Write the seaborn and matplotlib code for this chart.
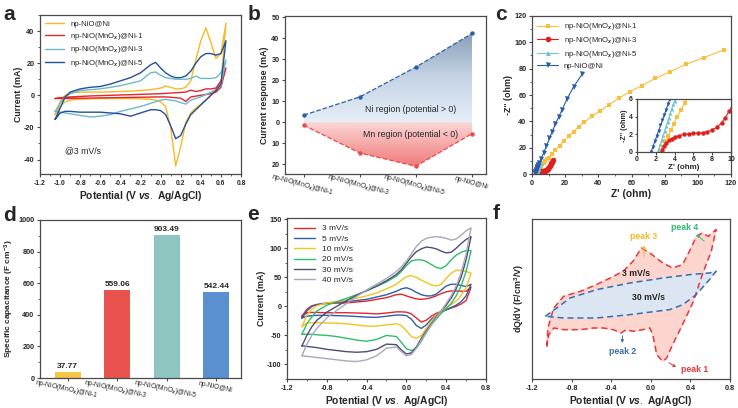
import numpy as np
import pandas as pd
import matplotlib
matplotlib.use("Agg")
import matplotlib.pyplot as plt
import seaborn as sns
from matplotlib.colors import LinearSegmentedColormap
from matplotlib.ticker import AutoMinorLocator, FuncFormatter

# ---------------- data ----------------
V_GRID = [-1.05, -1.0, -0.95, -0.9, -0.8, -0.7, -0.6, -0.5, -0.4, -0.3, -0.2, -0.1, -0.05,
          0.0, 0.05, 0.1, 0.15, 0.2, 0.25, 0.3, 0.35, 0.4, 0.45, 0.5, 0.55, 0.6, 0.65]

# panel a (3 mV/s) anodic (up) and cathodic (lo) branches, mA
a_ni_up = [-12, -4, 0, 1.5, 2, 2, 2, 2.2, 2.4, 2.6, 3, 3.5, 4, 4.5, 5.8, 5, 4, 4, 5, 9, 22, 34, 42, 33, 23, 26, 45]
a_ni_lo = [-12, -7, -4, -3, -2.5, -2.2, -2, -2, -2, -2, -2.2, -2.5, -3, -4, -7, -20, -44, -32, -17, -11, -8, -5.5, -3, 0, 3, 8, 45]
a_m1_up = [-2, -1.5, -1.2, -1, -0.7, -0.4, -0.2, 0, 0.2, 0.4, 0.6, 0.8, 0.9, 1, 1.2, 1.4, 1.6, 1.8, 2, 3.2, 2.4, 3, 4, 4, 4.5, 9, 17]
a_m1_lo = [-2, -2, -2, -1.9, -1.8, -1.7, -1.6, -1.5, -1.4, -1.3, -1.2, -1.1, -1, -1, -1, -1.2, -1.5, -1.8, -3.8, -1, -0.5, 0, 0.5, 1, 2, 5, 17]
a_m3_up = [-10, -5, -1, 1, 3, 3.5, 4, 5, 6, 7.5, 9, 14, 14.5, 12.5, 11, 10.5, 10, 10, 10, 10.5, 12, 10.5, 10.5, 10.5, 11, 14, 22]
a_m3_lo = [-10, -10.5, -11, -11.5, -12.5, -13.5, -13, -12, -10, -8.5, -7, -5, -4, -3, -2.5, -3, -3.5, -4.5, -5.5, -3, -2, -1, 0.5, 2, 3.5, 6, 22]
a_m5_up = [-15, -8, -1, 2, 4, 5, 5.5, 7, 9, 11, 14, 19, 20.5, 17, 14, 12, 11, 11, 12, 15, 20, 24, 26, 26, 25, 26, 34]
a_m5_lo = [-15, -11, -10, -10, -10.5, -10.5, -10.5, -11, -11.5, -13, -11, -9, -9, -9.5, -12, -19, -27, -25, -18, -12, -9, -6, -3, 0, 3, 7, 34]

# panel b
b_labels = ["np-NiO(MnO$_x$)@Ni-1", "np-NiO(MnO$_x$)@Ni-3", "np-NiO(MnO$_x$)@Ni-5", "np-NiO@Ni"]
b_ni = [3.3, 12.0, 26.2, 42.2]
b_mn = [-1.5, -14.7, -21.0, -5.5]

# panel c (Nyquist)
c_m1_x = [2.5, 2.75, 3.0, 3.3, 3.6, 3.9, 4.3, 4.7, 5.1, 5.6, 6.3, 7.0, 8.0, 9.0, 10.1, 12.1, 14.1, 16.7, 19.1,
          22.1, 25.1, 28.1, 31.6, 36.2, 41.2, 46.2, 52.3, 58.9, 66.3, 74.4, 83.4, 92.7, 103.5, 115.6]
c_m1_y = [0, 0.6, 1.2, 1.8, 2.5, 3.2, 4.0, 4.8, 5.6, 6.4, 7.5, 8.5, 10, 11.2, 12.5, 14.9, 18.2, 21.5, 25.1,
          28.9, 32.2, 35.9, 39.2, 44.1, 47.8, 52.4, 57.5, 62.5, 67.1, 72.7, 77.7, 83.3, 88.4, 94.2]
c_m3_x = [2.7, 2.9, 3.1, 3.4, 3.7, 4.0, 4.5, 5.0, 5.5, 6.0, 6.5, 7.0, 7.5, 8.0, 8.5, 9.0, 9.4, 9.8, 10.2,
          10.7, 11.2, 11.7, 12.2, 12.6]
c_m3_y = [0.2, 0.7, 1.0, 1.3, 1.5, 1.7, 1.85, 2.0, 2.05, 2.1, 2.15, 2.2, 2.3, 2.5, 2.8, 3.3, 3.9, 4.6, 5.4,
          6.4, 7.4, 8.4, 9.4, 10.3]
c_m5_x = [2.2, 2.35, 2.5, 2.65, 2.8, 2.95, 3.1, 3.25, 3.4, 3.55, 3.7, 3.85, 4.0, 4.5, 5.2]
c_m5_y = [0, 0.4, 0.9, 1.4, 1.9, 2.4, 2.9, 3.4, 3.9, 4.4, 4.9, 5.4, 5.8, 6.8, 8.2]
c_ni_x = [1.5, 1.7, 1.9, 2.1, 2.3, 2.5, 2.7, 2.9, 3.1, 3.3, 3.5, 3.7, 4.4, 5.4, 7.0, 8.6, 10.5, 12.1, 14.1,
          16.1, 18.1, 21.1, 25.1, 30.2]
c_ni_y = [0, 0.6, 1.2, 1.8, 2.4, 3.0, 3.6, 4.2, 4.8, 5.4, 6.0, 6.6, 8.5, 11.5, 16, 21, 27, 32, 38, 43.5,
          48.6, 57, 66.3, 75.7]

# panel d
d_labels = ["np-NiO(MnO$_x$)@Ni-1", "np-NiO(MnO$_x$)@Ni-3", "np-NiO(MnO$_x$)@Ni-5", "np-NiO@Ni"]
d_values = [37.77, 559.06, 903.49, 542.44]

# panel e (Ni-5 at different scan rates), mA
e_rates = ["3 mV/s", "5 mV/s", "10 mV/s", "20 mV/s", "30 mV/s", "40 mV/s"]
e3_up = [-17, -5, 1, 3, 5, 5.5, 6, 7.5, 9, 12, 15, 20, 21, 18, 15, 13, 12, 13, 15, 18, 22, 25, 26.5, 26.5, 26, 26, 33]
e3_lo = [-17, -11, -10.5, -10.5, -11, -11, -11, -11.5, -12, -13, -11.5, -9.5, -9.5, -10, -13, -20, -27, -24, -17, -12, -9, -6, -3, 0, 4, 10, 33]
e5_up = [-20, -8, 0, 3, 6, 7, 8, 10, 12, 16, 20, 26, 30, 32, 29, 24, 20, 18, 18, 21, 28, 35, 38, 38, 36, 34, 38]
e5_lo = [-20, -17, -16, -15.5, -15.5, -16, -16.5, -17.5, -18.5, -19, -17, -15, -15, -16, -22, -33, -38, -32, -22, -15, -10, -6, -2, 2, 8, 18, 38]
e10_up = [-35, -15, -5, 1, 6, 8, 11, 14, 18, 23, 30, 38, 45, 51, 53, 50, 45, 41, 37, 35, 38, 48, 57, 62, 62, 60, 57]
e10_lo = [-35, -29, -28, -28, -28.5, -29, -30, -32, -34, -34, -32, -30, -33, -42, -52, -55, -50, -38, -26, -15, -8, -2, 3, 9, 18, 32, 57]
e20_up = [-48, -30, -18, -8, 2, 8, 14, 20, 27, 34, 42, 52, 60, 70, 78, 80, 80, 77, 72, 67, 65, 70, 80, 88, 93, 96, 96]
e20_lo = [-48, -48, -48, -49, -50, -52, -55, -58, -60, -57, -50, -52, -62, -73, -76, -72, -60, -45, -32, -22, -12, -4, 5, 18, 35, 60, 96]
e30_up = [-68, -50, -35, -24, -10, 0, 10, 19, 27, 35, 44, 55, 63, 74, 85, 94, 99, 102, 101, 99, 95, 92, 93, 100, 108, 115, 120]
e30_lo = [-68, -69, -70, -71, -74, -76, -78, -79, -78, -74, -65, -66, -75, -82, -80, -70, -55, -42, -30, -18, -8, 2, 14, 30, 50, 80, 120]
e40_up = [-85, -65, -50, -38, -20, -7, 5, 17, 28, 38, 48, 60, 68, 78, 90, 103, 112, 117, 119, 120, 119, 117, 114, 116, 122, 130, 135]
e40_lo = [-85, -86, -87, -88, -90, -92, -94, -95, -92, -85, -72, -70, -78, -85, -83, -72, -58, -45, -32, -20, -8, 5, 18, 35, 58, 90, 135]

# panel f (dQ/dV, arbitrary units), closed loops
f3_v = [-1.05, -1.04, -0.98, -0.88, -0.71, -0.55, -0.41, -0.28, -0.18, -0.095, -0.01, 0.12, 0.22, 0.32, 0.39,
        0.46, 0.52, 0.58, 0.66, 0.61, 0.52, 0.43, 0.32, 0.22, 0.16, 0.12, 0.06, 0.02, -0.01, -0.08, -0.18,
        -0.25, -0.30, -0.38, -0.48, -0.58, -0.71, -0.88, -0.98, -1.03, -1.05]
f3_y = [-9.5, -4, 2, 5.5, 7, 9, 11, 13, 16, 20, 18.5, 15.5, 14, 15, 19, 23.5, 24.5, 23.5, 25.5, 19, 12, 4, -3,
        -9, -13, -14, -12, -6, -4, -4.5, -5, -4.5, -5.5, -4.5, -4, -4, -4.5, -4.5, -4, -6, -9.5]
f30_v = [-1.066, -0.95, -0.815, -0.547, -0.212, 0.123, 0.391, 0.592, 0.659, 0.592, 0.458, 0.324, 0.19, 0.056,
         -0.212, -0.547, -0.882, -1.066]
f30_y = [-0.5, 2, 5, 7.5, 9.5, 11, 12, 12.5, 13, 10.5, 6, 3, 1.5, 1, 0, -1, -1, -0.5]

# ---------------- style ----------------
sns.set_theme(style="ticks")
plt.rcParams['font.family'] = ['Liberation Sans', 'DejaVu Sans']
plt.rcParams['mathtext.fontset'] = 'custom'
plt.rcParams['mathtext.rm'] = 'Liberation Sans'
plt.rcParams['mathtext.it'] = 'Liberation Sans:italic:bold'
plt.rcParams['mathtext.bf'] = 'Liberation Sans:bold'
plt.rcParams['axes.unicode_minus'] = False
plt.rcParams['hatch.linewidth'] = 0.6
plt.rcParams['hatch.color'] = '#6a6a6a'

SPINE = '#4a4a4a'
TICK_FS = 5.2
XLAB_FS = 7.4
YLAB_FS = 6.4


def style_ax(ax, minor=True):
    for s in ax.spines.values():
        s.set_visible(True)
        s.set_color(SPINE)
        s.set_linewidth(0.9)
    ax.tick_params(which='major', direction='out', length=2.5, width=0.8, color=SPINE,
                   labelsize=TICK_FS, pad=1.5)
    ax.tick_params(which='minor', direction='out', length=1.4, width=0.6, color=SPINE)
    for lab in ax.get_xticklabels() + ax.get_yticklabels():
        lab.set_fontweight('bold')
    if minor:
        ax.xaxis.set_minor_locator(AutoMinorLocator(2))
        ax.yaxis.set_minor_locator(AutoMinorLocator(2))


def loop(up, lo):
    return V_GRID + V_GRID[::-1], up + lo[::-1]


def cat_labels(ax, rot):
    for lab in ax.get_xticklabels():
        lab.set_rotation(rot)
        lab.set_fontsize(4.9)
        lab.set_fontweight('normal')
        lab.set_ha('center')
        lab.set_rotation_mode('anchor')
        lab.set_va('top')


fig = plt.figure(figsize=(7.38, 4.08), dpi=100)

# ---------------- panel a ----------------
axA = fig.add_axes([0.0542, 0.5735, 0.2724, 0.3897])
for name, up, lo, col in [("np-NiO@Ni", a_ni_up, a_ni_lo, '#F7B928'),
                          ("np-NiO(MnO$_x$)@Ni-1", a_m1_up, a_m1_lo, '#E3262B'),
                          ("np-NiO(MnO$_x$)@Ni-3", a_m3_up, a_m3_lo, '#6DBAC6'),
                          ("np-NiO(MnO$_x$)@Ni-5", a_m5_up, a_m5_lo, '#244F9E')]:
    xx, yy = loop(up, lo)
    sns.lineplot(x=xx, y=yy, sort=False, estimator=None, color=col, lw=1.0, ax=axA, label=name)
axA.set_xlim(-1.2, 0.8)
axA.set_ylim(-49, 50)
ticks_a = np.round(np.arange(-1.2, 0.81, 0.2), 1)
axA.set_xticks(ticks_a)
axA.set_xticklabels([f"{v:.1f}" for v in ticks_a])
axA.set_yticks([-40, -20, 0, 20, 40])
axA.legend(loc='upper left', frameon=False, fontsize=5.6, handlelength=2.4, borderaxespad=0.3,
           labelspacing=0.35)
axA.text(-0.95, -36, "@3 mV/s", fontsize=6.3)
axA.set_xlabel("Potential (V $\\mathit{vs.}$ Ag/AgCl)", fontsize=XLAB_FS, fontweight='bold', labelpad=2)
axA.set_ylabel("Current (mA)", fontsize=YLAB_FS, fontweight='bold', labelpad=1)
style_ax(axA)
axA.tick_params(axis='x', labelsize=4.9)

# ---------------- panel b ----------------
axB = fig.add_axes([0.3862, 0.5735, 0.2724, 0.3873])
xb = np.arange(len(b_labels))
blue_cmap = LinearSegmentedColormap.from_list('bl', ['#E6EEF7', '#C6D4E6', '#8A9FB9'])
red_cmap = LinearSegmentedColormap.from_list('rd', ['#FBD9D9', '#F6A9A9', '#F07C7C'])
grad = np.linspace(0, 1, 256).reshape(-1, 1)
poly_b = axB.fill_between(xb, 0, b_ni, facecolor='none', edgecolor='none')
im_b = axB.imshow(grad, extent=[0, 3, 0, max(b_ni)], origin='lower', aspect='auto', cmap=blue_cmap, zorder=1)
im_b.set_clip_path(poly_b.get_paths()[0], transform=axB.transData)
poly_r = axB.fill_between(xb, b_mn, 0, facecolor='none', edgecolor='none')
im_r = axB.imshow(grad[::-1], extent=[0, 3, min(b_mn), 0], origin='lower', aspect='auto', cmap=red_cmap, zorder=1)
im_r.set_clip_path(poly_r.get_paths()[0], transform=axB.transData)
sns.lineplot(x=xb, y=b_ni, color='#2E5FA8', lw=0.9, linestyle='--', marker='o', markersize=3.2,
             markeredgewidth=0, ax=axB, zorder=3)
sns.lineplot(x=xb, y=b_mn, color='#E84B4B', lw=0.9, linestyle='--', marker='o', markersize=3.2,
             markeredgewidth=0, ax=axB, zorder=3)
axB.text(1.9, 6, "Ni region (potential > 0)", fontsize=6.3, ha='center', va='center', zorder=4)
axB.text(1.9, -6, "Mn region (potential < 0)", fontsize=6.3, ha='center', va='center', zorder=4)
axB.set_xlim(-0.333, 3.25)
axB.set_ylim(-24.7, 50.5)
axB.set_yticks([-20, -10, 0, 10, 20, 30, 40, 50])
axB.yaxis.set_major_formatter(FuncFormatter(lambda v, p: f"{abs(int(round(v)))}"))
axB.set_xticks(xb)
axB.set_xticklabels(b_labels)
axB.set_ylabel("Current response (mA)", fontsize=YLAB_FS, fontweight='bold', labelpad=2)
axB.set_xlabel("")
style_ax(axB, minor=False)
cat_labels(axB, -15)

# ---------------- panel c ----------------
axC = fig.add_axes([0.7209, 0.5735, 0.2696, 0.3873])
c_series = [("np-NiO(MnO$_x$)@Ni-1", c_m1_x, c_m1_y, '#F9BE3C', 's', 3.3),
            ("np-NiO(MnO$_x$)@Ni-3", c_m3_x, c_m3_y, '#E0201E', 'o', 4.0),
            ("np-NiO(MnO$_x$)@Ni-5", c_m5_x, c_m5_y, '#74C3CB', '^', 3.6),
            ("np-NiO@Ni", c_ni_x, c_ni_y, '#2A5CA8', 'v', 3.6)]
for name, xs, ys, col, mk, ms in c_series:
    sns.lineplot(x=xs, y=ys, sort=False, estimator=None, color=col, lw=0.8, marker=mk, markersize=ms,
                 markeredgewidth=0, ax=axC, label=name)
axC.set_xlim(0, 120)
axC.set_ylim(0, 120)
axC.set_xticks(range(0, 121, 20))
axC.set_yticks(range(0, 121, 20))
axC.legend(loc='upper left', frameon=False, fontsize=5.6, handlelength=2.6, borderaxespad=0.3,
           labelspacing=0.35)
axC.set_xlabel("Z' (ohm)", fontsize=XLAB_FS, fontweight='bold', labelpad=2)
axC.set_ylabel("-Z'' (ohm)", fontsize=YLAB_FS, fontweight='bold', labelpad=1)
style_ax(axC)

axI = fig.add_axes([0.8631, 0.6275, 0.1274, 0.1299])
for name, xs, ys, col, mk, ms in c_series:
    sns.lineplot(x=xs, y=ys, sort=False, estimator=None, color=col, lw=0.8, marker=mk, markersize=ms * 0.8,
                 markeredgewidth=0, ax=axI)
axI.set_xlim(0, 10)
axI.set_ylim(0, 6)
axI.set_xticks(range(0, 11, 2))
axI.set_yticks([0, 2, 4, 6])
axI.set_xlabel("Z' (ohm)", fontsize=5.8, fontweight='bold', labelpad=1)
axI.set_ylabel("-Z'' (ohm)", fontsize=5.2, fontweight='bold', labelpad=1)
style_ax(axI, minor=False)
axI.tick_params(labelsize=5.0, length=1.8, pad=1)

# ---------------- panel d ----------------
axD = fig.add_axes([0.0542, 0.0735, 0.2724, 0.3873])
dfd = pd.DataFrame({"sample": d_labels, "cap": d_values})
d_colors = ['#F5C545', '#E9534D', '#8FC5C1', '#5A8FD0']
sns.barplot(data=dfd, x="sample", y="cap", hue="sample", palette=d_colors, legend=False,
            width=0.52, ax=axD, saturation=1)
for p in axD.patches:
    p.set_hatch('.')
    p.set_edgecolor('none')
for i, v in enumerate(d_values):
    axD.text(i, v + 12, f"{v:.2f}", ha='center', va='bottom', fontsize=6.0, fontweight='bold')
axD.set_xlim(-0.56, 3.5)
axD.set_ylim(0, 1000)
axD.set_yticks(range(0, 1001, 200))
axD.set_xlabel("")
axD.set_ylabel("Specific capacitance (F cm$^{\\mathbf{-3}}$)", fontsize=6.0, fontweight='bold', labelpad=2)
style_ax(axD, minor=False)
axD.yaxis.set_minor_locator(AutoMinorLocator(2))
cat_labels(axD, -12)

# ---------------- panel e ----------------
axE = fig.add_axes([0.3889, 0.0711, 0.2696, 0.3946])
e_cols = ['#E3262B', '#2E5FA8', '#F7C21C', '#2DBE6C', '#4B4E78', '#A8A8B8']
for name, up, lo, col in zip(e_rates, [e3_up, e5_up, e10_up, e20_up, e30_up, e40_up],
                             [e3_lo, e5_lo, e10_lo, e20_lo, e30_lo, e40_lo], e_cols):
    xx, yy = loop(up, lo)
    sns.lineplot(x=xx, y=yy, sort=False, estimator=None, color=col, lw=1.0, ax=axE, label=name)
axE.set_xlim(-1.2, 0.8)
axE.set_ylim(-125, 152)
axE.set_xticks([-1.2, -0.8, -0.4, 0.0, 0.4, 0.8])
axE.set_xticklabels(["-1.2", "-0.8", "-0.4", "0.0", "0.4", "0.8"])
axE.set_yticks([-100, -50, 0, 50, 100, 150])
axE.legend(loc='upper left', frameon=False, fontsize=6.0, handlelength=2.6, borderaxespad=0.4,
           labelspacing=0.3)
axE.set_xlabel("Potential (V $\\mathit{vs.}$ Ag/AgCl)", fontsize=XLAB_FS, fontweight='bold', labelpad=2)
axE.set_ylabel("Current (mA)", fontsize=YLAB_FS, fontweight='bold', labelpad=1)
style_ax(axE)

# ---------------- panel f ----------------
axF = fig.add_axes([0.7209, 0.0711, 0.2683, 0.3922])
axF.fill(f3_v, f3_y, color='#FCD6CE', zorder=1)
axF.fill(f30_v, f30_y, color='#DCE6F2', zorder=2)
sns.lineplot(x=f3_v, y=f3_y, sort=False, estimator=None, color='#E8383D', lw=1.1, linestyle=(0, (4, 2.5)),
             ax=axF, zorder=3)
sns.lineplot(x=f30_v, y=f30_y, sort=False, estimator=None, color='#3D6BAA', lw=1.1, linestyle=(0, (4, 2.5)),
             ax=axF, zorder=3)
axF.set_xlim(-1.2, 0.8)
axF.set_ylim(-19.3, 28.7)
axF.set_xticks([-1.2, -0.8, -0.4, 0.0, 0.4, 0.8])
axF.set_xticklabels(["-1.2", "-0.8", "-0.4", "0.0", "0.4", "0.8"])
axF.set_yticks([])
ann_kw = dict(fontsize=6.3, fontweight='bold', ha='center', va='center', zorder=5)
axF.text(-0.068, 23.5, "peak 3", color='#F5B820', **ann_kw)
axF.annotate("", xy=(-0.068, 21.6), xytext=(-0.068, 16.5),
             arrowprops=dict(arrowstyle='-|>', color='#F5B820', lw=0.7, mutation_scale=4), zorder=5)
axF.text(0.34, 26.2, "peak 4", color='#2DBE6C', **ann_kw)
axF.annotate("", xy=(0.44, 24.6), xytext=(0.56, 21.5),
             arrowprops=dict(arrowstyle='-|>', color='#2DBE6C', lw=0.7, mutation_scale=4), zorder=5)
axF.text(-0.145, 12.2, "3 mV/s", color='#222222', **ann_kw)
axF.text(-0.027, 5.0, "30 mV/s", color='#222222', **ann_kw)
axF.text(-0.28, -11.2, "peak 2", color='#3D6BAA', **ann_kw)
axF.annotate("", xy=(-0.29, -9.3), xytext=(-0.285, -5.5),
             arrowprops=dict(arrowstyle='-|>', color='#3D6BAA', lw=0.7, mutation_scale=4), zorder=5)
axF.text(0.445, -16.6, "peak 1", color='#E8383D', **ann_kw)
axF.annotate("", xy=(0.28, -16.2), xytext=(0.16, -14.0),
             arrowprops=dict(arrowstyle='-|>', color='#E8383D', lw=0.7, mutation_scale=4), zorder=5)
axF.set_xlabel("Potential (V $\\mathit{vs.}$ Ag/AgCl)", fontsize=XLAB_FS, fontweight='bold', labelpad=2)
axF.set_ylabel("dQ/dV (F/cm$^{\\mathbf{3}}$/V)", fontsize=YLAB_FS, fontweight='bold', labelpad=4)
style_ax(axF, minor=False)

# ---------------- panel letters ----------------
for letter, x, y in [('a', 0.004, 0.952), ('b', 0.336, 0.952), ('c', 0.671, 0.952),
                     ('d', 0.004, 0.458), ('e', 0.335, 0.462), ('f', 0.667, 0.463)]:
    fig.text(x, y, letter, fontsize=15, fontweight='bold', family='Liberation Sans')

fig.savefig("out.png", dpi=100)
